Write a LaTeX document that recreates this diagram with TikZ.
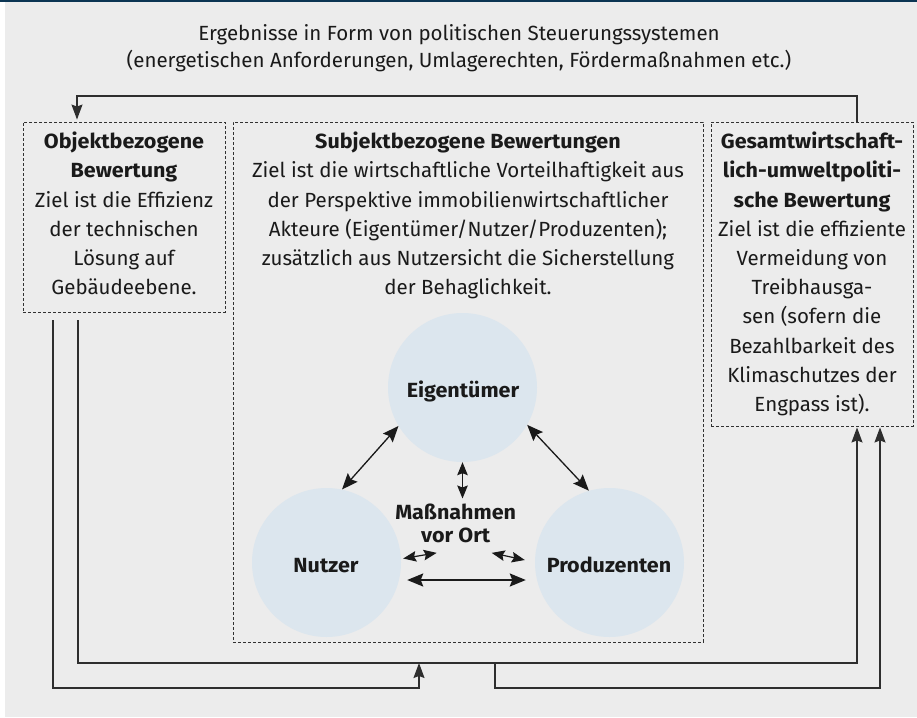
\documentclass[tikz,border=0pt]{standalone}
\usepackage{fontspec}
\setmainfont{Fira Sans}[BoldFeatures={FakeStretch=1.05}]
\usetikzlibrary{arrows.meta,calc}
\definecolor{bg}{HTML}{ECECEC}
\definecolor{navy}{HTML}{0B3553}
\definecolor{circ}{HTML}{DCE6EE}
\definecolor{ink}{HTML}{1A1A1A}
\definecolor{lineC}{HTML}{2E2E2E}
\begin{document}
\begin{tikzpicture}[x=1pt,y=-1pt,
  box/.style={draw=ink!90, dash pattern=on 3pt off 2pt, line width=0.9pt, inner sep=0pt},
  txt/.style={align=center, inner sep=0pt, text=ink, font=\fontsize{20.5}{29.2}\selectfont},
  toptxt/.style={align=center, inner sep=0pt, text=ink, font=\fontsize{20.5}{27}\selectfont},
  lbl/.style={inner sep=0pt, text=ink, font=\fontsize{20.5}{23.6}\selectfont\bfseries},
  circnode/.style={circle, fill=circ, draw=none, minimum size=149pt, inner sep=0pt},
  conn/.style={draw=lineC, line width=1.3pt},
  tipA/.style={-{Stealth[length=15pt,width=11pt,inset=2pt]}},
  dbl/.style={draw=ink, line width=1.3pt, {Stealth[length=16pt,width=13pt,inset=2.5pt]}-{Stealth[length=16pt,width=13pt,inset=2.5pt]}},
  dblthick/.style={draw=ink, line width=2pt, {Stealth[length=16pt,width=13pt,inset=2.5pt]}-{Stealth[length=16pt,width=13pt,inset=2.5pt]}},
  small/.style={draw=ink, line width=1.2pt, {Stealth[length=13pt,width=10.5pt,inset=2pt]}-{Stealth[length=13pt,width=10.5pt,inset=2pt]}}
]
\useasboundingbox (0,0) rectangle (917,717);
\fill[bg] (5,0) rectangle (917,717);
\fill[navy] (0,0) rectangle (917,2);

% top text
\node[toptxt, anchor=north] (top) at (459,21.1) {\strut Ergebnisse in Form von politischen Steuerungssystemen\\(energetischen Anforderungen, Umlagerechten, Fördermaßnahmen etc.)};

% boxes
\node[box, minimum width=202pt, minimum height=190pt] (L) at (124,217) {};
\node[box, minimum width=470pt, minimum height=520pt] (C) at (468,382) {};
\node[box, minimum width=202pt, minimum height=304pt] (R) at (812,274) {};

\node[txt, anchor=north] (Lt) at (124,128.1) {\strut\textbf{Objektbezogene}\\\textbf{Bewertung}\\Ziel ist die Effizienz\\der technischen\\Lösung auf\\Gebäudeebene.};
\node[txt, anchor=north] (Ct) at (468,128.1) {\strut\textbf{Subjektbezogene Bewertungen}\\Ziel ist die wirtschaftliche Vorteilhaftigkeit aus\\der Perspektive immobilienwirtschaftlicher\\Akteure (Eigentümer/Nutzer/Produzenten);\\zusätzlich aus Nutzersicht die Sicherstellung\\der Behaglichkeit.};
\node[txt, anchor=north] (Rt) at (812,128.1) {\strut\textbf{Gesamtwirtschaft-}\\\textbf{lich-umweltpoliti-}\\\textbf{sche Bewertung}\\Ziel ist die effiziente\\Vermeidung von\\Treibhausga-\\sen (sofern die\\Bezahlbarkeit des\\Klimaschutzes der\\Engpass ist).};

% circles
\node[circnode] (E) at (462.5,387.5) {};
\node[circnode] (N) at (326.5,562.5) {};
\node[circnode] (P) at (609.5,562.5) {};
\node[lbl, anchor=base] (Et) at (463,397) {Eigentümer};
\node[lbl, anchor=base] (Nt) at (326,572) {Nutzer};
\node[lbl, anchor=base] (Pt) at (609,572) {Produzenten};
\node[lbl, align=center, anchor=north] (M) at (455.7,502.5) {\strut Maßnahmen\\vor Ort};

% arrows between actors
\draw[dbl] (E.211) -- (N.78);
\draw[dbl] (E.330) -- (P.106);
\draw[small] (E.south) -- ($(E.south |- M.north)+(0,-4)$);
\draw[small] ($(N.east)+(2,-4)$) -- ($(M.south)+(-19,9.5)$);
\draw[small] ($(M.south)+(36,9.5)$) -- ($(P.west)+(-10,-2.5)$);
\draw[dblthick] ($(N.east)+(6,17.5)$) -- ($(P.west)+(-9,17.5)$);

% top connector
\coordinate (tr) at (857,96);
\coordinate (tl) at (77,96);
\draw[conn, tipA, shorten >=2pt] (tr |- R.north) -- (tr) -- (tl) -- (tl |- L.north);

% bottom connectors
\coordinate (a1) at (78,663);
\coordinate (a2) at (857,663);
\draw[conn, tipA, shorten >=1pt] ($(a1 |- L.south)+(0,8)$) -- (a1) -- (a2) -- (a2 |- R.south);
\coordinate (b1) at (53,688);
\coordinate (b2) at (419,688);
\draw[conn, tipA] ($(b1 |- L.south)+(0,8)$) -- (b1) -- (b2) -- (b2 |- a1);
\coordinate (c1) at (495,663);
\coordinate (c2) at (495,688);
\coordinate (c3) at (880,688);
\draw[conn, tipA, shorten >=1pt] (c1) -- (c2) -- (c3) -- (c3 |- R.south);
\end{tikzpicture}
\end{document}
